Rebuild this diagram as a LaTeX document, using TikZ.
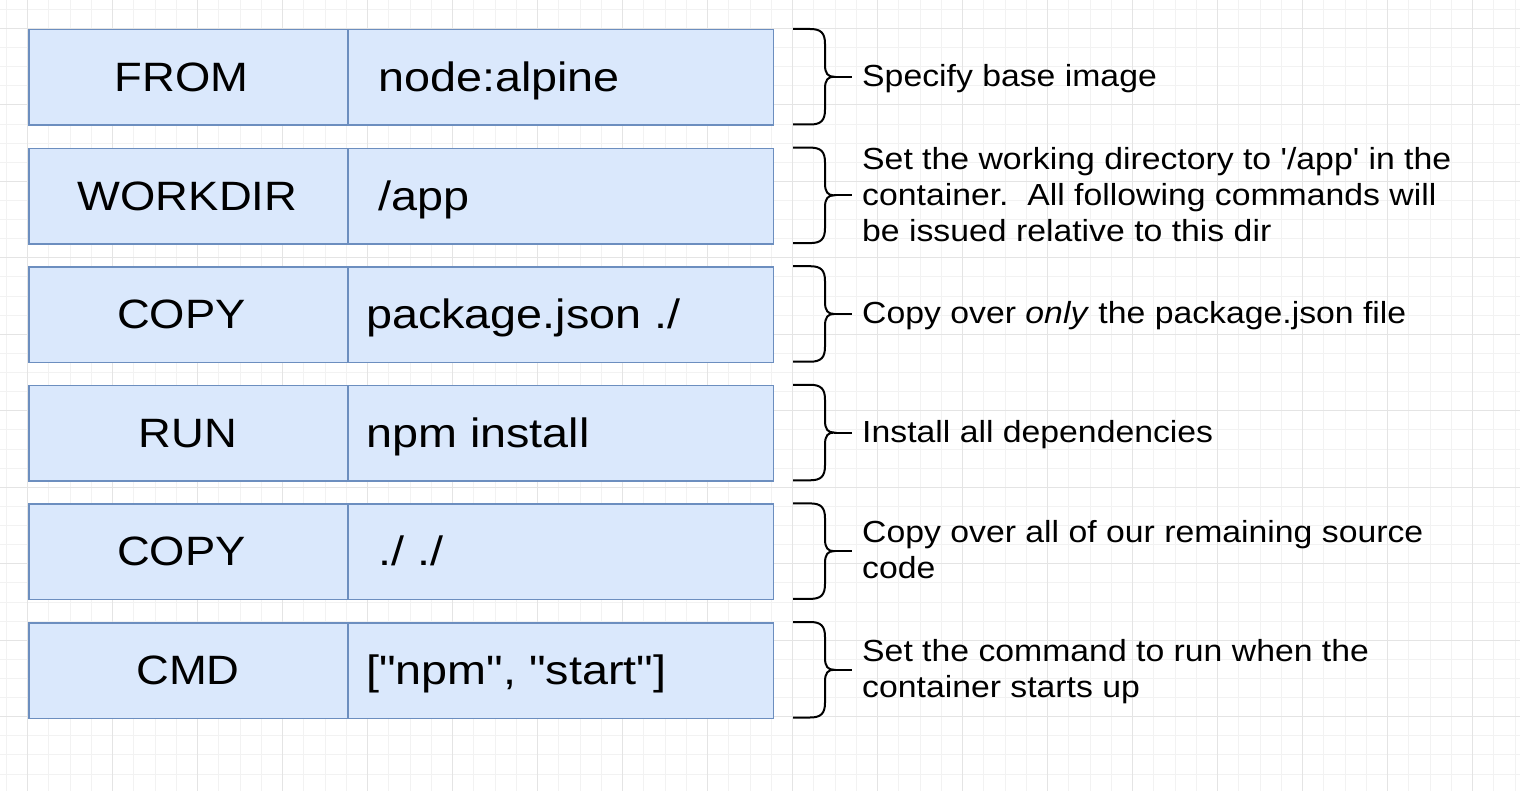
\documentclass[tikz,border=0pt]{standalone}
\usepackage{fontspec}
\setmainfont{Liberation Sans}[FakeStretch=1.107,Ligatures=TeXOff]
\newfontfamily\valfont{Liberation Sans}[FakeStretch=1.14,Ligatures=TeXOff]
\definecolor{cellfill}{HTML}{DAE8FC}
\definecolor{celldraw}{HTML}{6C8EBF}
\definecolor{gridminor}{HTML}{F2F2F2}
\definecolor{gridmajor}{HTML}{E4E4E4}
\newcommand\mybrace[3]{%
  \draw[bracepath] (793,#1) -- (810,#1) .. controls (821,#1) and (825,#1+4) .. (825,#1+15)
    -- (825,#2-12) .. controls (825,#2-3) and (828,#2) .. (834,#2)
    .. controls (828,#2) and (825,#2+3) .. (825,#2+12)
    -- (825,#3-15) .. controls (825,#3-4) and (821,#3) .. (810,#3) -- (793,#3);
  \draw[bracepath] (834,#2) -- (852,#2);}
\begin{document}
\begin{tikzpicture}[x=1pt,y=-1pt,
  cell/.style={draw=celldraw, fill=cellfill, line width=1.5pt, minimum height=95.5pt, inner sep=0pt, anchor=north west},
  keycell/.style={cell, minimum width=319pt},
  valcell/.style={cell, minimum width=425.5pt},
  key/.style={font=\fontsize{41}{49}\selectfont, anchor=base, inner sep=0pt},
  val/.style={font=\valfont\fontsize{41}{49}\selectfont, anchor=base west, inner sep=0pt},
  note/.style={font=\fontsize{30.5}{36}\selectfont, anchor=base west, inner sep=0pt, align=left},
  bracepath/.style={draw=black, line width=2pt},
  gminor/.style={draw=gridminor, line width=1pt},
  gmajor/.style={draw=gridmajor, line width=1pt}]
\useasboundingbox (0,0) rectangle (1520,791);
\fill[white] (0,0) rectangle (1520,791);
% grid
\foreach \i in {0,...,71} \draw[gminor] ({6.25+21.25*\i},0) -- ++(0,791);
\foreach \j in {0,...,41} \draw[gminor] (0,{9.3+19.12*\j}) -- ++(1520,0);
\foreach \i in {0,...,17} \draw[gmajor] ({27.5+85*\i},0) -- ++(0,791);
\foreach \j in {0,...,9} \draw[gmajor] (0,{28.4+76.48*\j}) -- ++(1520,0);

% row 1
\node[keycell] (k1) at (28,29) {};
\node[valcell] (v1) at (347,29) {};
\node[key] (kt1) at (181.7,91.45) {FROM};
\node[val] (vt1) at (378,91.45) {node:alpine};
\mybrace{29}{76.75}{124.5}
\node[note] (n1) at (862,86.45) {Specify base image};

% row 2
\node[keycell] (k2) at (28,147.6) {};
\node[valcell] (v2) at (347,147.6) {};
\node[key] (kt2) at (187.5,210.05) {WORKDIR};
\node[val] (vt2) at (378,210.05) {/app};
\mybrace{147.6}{195.35}{243.1}
\node[note] (n2) at (862,241.05) {Set the working directory to '/app' in the\\container.\ \ All following commands will\\be issued relative to this dir};

% row 3
\node[keycell] (k3) at (28,266.2) {};
\node[valcell] (v3) at (347,266.2) {};
\node[key] (kt3) at (181.5,328.65) {COPY};
\node[val] (vt3) at (366,328.65) {package.json ./};
\mybrace{266.2}{313.95}{361.7}
\node[note] (n3) at (862,323.65) {Copy over \textit{only} the package.json file};

% row 4
\node[keycell] (k4) at (28,384.8) {};
\node[valcell] (v4) at (347,384.8) {};
\node[key] (kt4) at (188,447.25) {RUN};
\node[val] (vt4) at (366,447.25) {npm install};
\mybrace{384.8}{432.55}{480.3}
\node[note] (n4) at (862,442.25) {Install all dependencies};

% row 5
\node[keycell] (k5) at (28,503.4) {};
\node[valcell] (v5) at (347,503.4) {};
\node[key] (kt5) at (181.5,565.85) {COPY};
\node[val] (vt5) at (378,565.85) {./ ./};
\mybrace{503.4}{551.15}{598.9}
\node[note] (n5) at (862,578.85) {Copy over all of our remaining source\\code};

% row 6
\node[keycell] (k6) at (28,622) {};
\node[valcell] (v6) at (347,622) {};
\node[key] (kt6) at (188,684.45) {CMD};
\node[val] (vt6) at (366,684.45) {["npm", "start"]};
\mybrace{622}{669.75}{717.5}
\node[note] (n6) at (862,697.45) {Set the command to run when the\\container starts up};
\end{tikzpicture}
\end{document}
